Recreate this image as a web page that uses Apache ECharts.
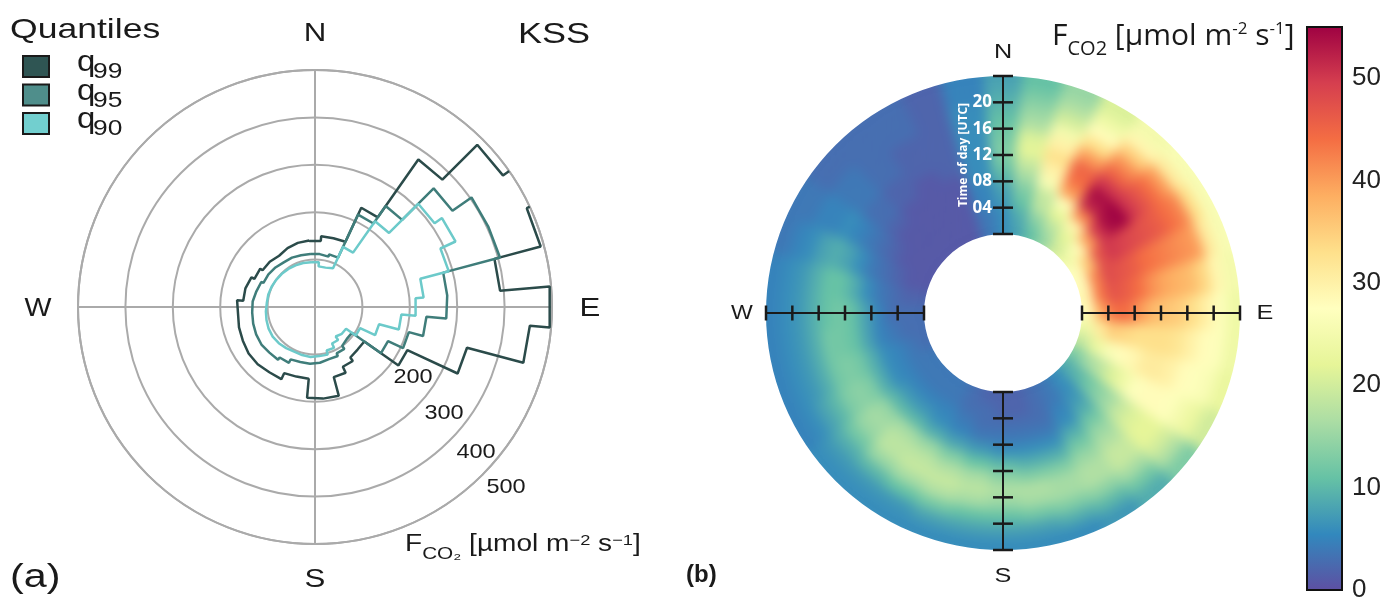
<!DOCTYPE html>
<html><head><meta charset="utf-8">
<script src="https://cdn.jsdelivr.net/npm/echarts@6/dist/echarts.min.js"></script>
<style>html,body{margin:0;padding:0;background:#fff}
.layer{position:absolute;left:0;top:0;width:1399px;height:603px}
#heat{filter:blur(6px)}
</style>
</head><body><div id="heat" class="layer"></div><div id="c" class="layer"></div>
<script>
// ---------- Panel (a): quantiles of F_CO2 per 10-degree wind-direction bin ----------
const dirBins = [0,10,20,30,40,50,60,70,80,90,100,110,120,130,140,150,160,170,180,190,200,210,220,230,240,250,260,270,280,290,300,310,320,330,340,350];
const q99 = [140,150,152,231,380,484,557,493,392,497,455,332,215,127,130,139,153,194,192,152,154,168,171,171,168,166,163,165,152,148,141,135,132,137,140,141];
const q95 = [112,110,115,215,260,354,403,404,280,278,236,205,170,95,100,108,114,118,120,120,122,130,136,138,137,135,133,132,128,125,120,118,115,115,113,112];
const q90 = [95,86,90,140,221,308,327,292,230,213,183,140,105,80,76,85,95,104,106,105,104,106,108,109,108,106,104,102,102,101,100,99,98,97,96,95];
const quantileNames = ['q99','q95','q90'];
const radialTickLabels = ['200','300','400','500'];

// ---------- Panel (b): F_CO2 by wind direction (rows) and time of day (columns, 2-h bins) ----------
const hourBins = [1,3,5,7,9,11,13,15,17,19,21,23];
const fluxGrid = [
  [6,6,7,8,10,12,13,12,11,10,9,8],        // 0
  [8,9,11,13,16,19,22,21,17,15,13,11],    // 10
  [11,14,18,19,26,30,33,30,25,20,17,15],  // 20
  [15,18,22,27,40,44,45,40,33,28,24,21],  // 30
  [20,22,29,42,52,54,50,45,41,35,29,25],  // 40
  [24,28,40,50,54,55,50,47,44,40,31,26],  // 50
  [27,36,47,50,49,48,47,46,44,42,33,26],  // 60
  [28,42,48,47,46,44,43,42,41,40,31,26],  // 70
  [29,43,47,46,44,41,39,38,37,34,29,25],  // 80
  [28,39,44,44,40,37,36,35,33,30,27,24],  // 90
  [24,31,35,34,33,33,33,32,30,28,27,24],  // 100
  [19,23,26,28,29,31,31,30,28,27,26,23],  // 110
  [13,16,18,21,24,27,28,28,27,25,23,20],  // 120
  [9,10,12,14,16,19,21,22,22,20,17,13],   // 130
  [6,6,7,9,12,15,17,19,19,16,12,9],       // 140
  [4,4,5,6,9,12,15,17,17,14,10,7],        // 150
  [3,3,3,4,6,9,13,16,16,13,9,6],          // 160
  [2,2,3,4,6,9,13,17,16,12,8,6],          // 170
  [2,2,3,4,6,10,14,17,15,11,8,6],         // 180
  [2,3,3,4,7,11,16,18,16,11,8,6],         // 190
  [3,3,4,5,8,13,17,19,17,12,8,6],         // 200
  [4,4,5,6,9,15,18,19,16,11,7,6],         // 210
  [4,4,5,7,10,16,18,18,15,10,7,6],        // 220
  [4,4,5,7,10,15,16,15,12,9,7,6],         // 230
  [4,4,5,6,9,13,14,13,10,8,6,5],          // 240
  [3,4,5,6,9,12,13,12,9,7,6,5],           // 250
  [3,3,4,5,8,11,12,12,9,7,6,5],           // 260
  [3,3,3,5,8,11,12,11,9,7,6,5],           // 270
  [2,2,3,4,6,9,11,11,9,7,6,5],            // 280
  [1,1,2,3,4,6,8,9,8,6,5,4],              // 290
  [1,1,1,2,3,4,5,6,5,5,4,4],              // 300
  [1,1,1,1,2,3,3,4,4,4,3,3],              // 310
  [1,1,1,1,1,2,2,3,3,3,3,3],              // 320
  [1,1,1,1,1,1,2,2,2,3,3,3],              // 330
  [1,1,1,1,1,2,2,2,2,2,2,2],              // 340
  [4,4,5,5,6,6,6,6,6,6,5,5]               // 350
];
const hourTicks = [0,4,8,12,16,20,24];
const axisDirs = [0,90,180,270];
const colorRange = [0,55];
const spectral = ['#5E4FA2','#3288BD','#66C2A5','#ABDDA4','#E6F598','#FFFFBF','#FEE08B','#FDAE61','#F46D43','#D53E4F','#9E0142'];

// ---------- layout constants ----------
const polarA = {center:[315,307], radius:[0,237]};
const polarB = {center:[1003,313], radius:[79,237]};
const binHalf = 5, hourHalf = 1;

function stepPath(vals){
  const pts = [];
  dirBins.forEach((d,i)=>{ pts.push([vals[i], d-binHalf]); pts.push([vals[i], d+binHalf]); });
  pts.push([vals[0], dirBins[0]-binHalf+360]);
  return pts;
}
const heatData = [];
dirBins.forEach((d,i)=>hourBins.forEach((h,j)=>heatData.push([h, d, fluxGrid[i][j]])));
const tickData = [];
axisDirs.forEach(d=>hourTicks.forEach(h=>tickData.push([h,d])));

const lineColors = ['#2b4b4a','#3f7d7a','#6ccaca'];
const boxColors = ['#2f5553','#4f8e8b','#72cfcf'];
const qVals = [q99,q95,q90];

// ---------- heat layer (smoothed by a CSS blur, clipped to the annulus) ----------
(function(){
  const cx = polarB.center[0], cy = polarB.center[1], R = polarB.radius[1], r = polarB.radius[0];
  const ring = (rad)=>`M ${cx+rad} ${cy} A ${rad} ${rad} 0 1 0 ${cx-rad} ${cy} A ${rad} ${rad} 0 1 0 ${cx+rad} ${cy} Z`;
  document.getElementById('heat').style.clipPath = `path(evenodd, '${ring(R)} ${ring(r)}')`;
})();
const heat = echarts.init(document.getElementById('heat'));
heat.setOption({
  animation:false,
  polar:[polarB],
  angleAxis:[{type:'value', min:0, max:360, startAngle:90, clockwise:true, show:false}],
  radiusAxis:[{type:'value', min:0, max:24, show:false}],
  visualMap:[{type:'continuous', show:false, min:colorRange[0], max:colorRange[1], dimension:2, seriesIndex:0, inRange:{color:spectral}}],
  series:[{type:'custom', coordinateSystem:'polar', data:heatData, encode:{radius:0, angle:1},
    renderItem:function(params, api){
      const cs = params.coordSys;
      const h = api.value(0), d = api.value(1);
      const pA = api.coord([h-hourHalf, d]), pB = api.coord([h+hourHalf, d]);
      let r0 = Math.hypot(pA[0]-cs.cx, pA[1]-cs.cy), r1 = Math.hypot(pB[0]-cs.cx, pB[1]-cs.cy);
      if (h === hourBins[0]) r0 -= 12;
      if (h === hourBins[hourBins.length-1]) r1 += 12;
      const s = api.coord([h, d-binHalf]), e = api.coord([h, d+binHalf]);
      let a0 = Math.atan2(s[1]-cs.cy, s[0]-cs.cx), a1 = Math.atan2(e[1]-cs.cy, e[0]-cs.cx);
      if (a1 < a0) a1 += Math.PI*2;
      const col = api.visual('color');
      return {type:'sector', shape:{cx:cs.cx, cy:cs.cy, r0:Math.max(r0,0), r:r1, startAngle:a0-0.004, endAngle:a1+0.004, clockwise:true}, style:{fill:col, stroke:col, lineWidth:0.6}};
    }}]
});

// ---------- main layer ----------
const chart = echarts.init(document.getElementById('c'));
const FA = 'Liberation Sans, Arial, sans-serif';
function T(x,y,text,font,extra,sx){
  return {type:'text', x:x, y:y, z:100, scaleX:sx||1, style:Object.assign({text:text, font:font, fill:'#1a1a1a', align:'center', verticalAlign:'middle', textAlign:'center', textVerticalAlign:'middle'}, extra||{})};
}
const L = {align:'left', textAlign:'left'};
const graphics = [];
graphics.push(T(10,30,'Quantiles','28px '+FA,L,1.27));
quantileNames.forEach((n,i)=>{
  const y = 56 + i*28.5;
  graphics.push({type:'rect', z:100, shape:{x:23,y:y,width:26,height:21}, style:{fill:boxColors[i], stroke:'#1a1a1a', lineWidth:2}});
  graphics.push(T(77,y+7,'q','30px '+FA,L,1.1));
  graphics.push(T(93,y+16,n.slice(1),'22px '+FA,L,1.2));
});
graphics.push(T(554,35,'KSS','30px '+FA,null,1.2));
graphics.push(T(315,34,'N','26px '+FA,null,1.2));
graphics.push(T(315,580,'S','26px '+FA,null,1.2));
graphics.push(T(38,309,'W','26px '+FA,null,1.1));
graphics.push(T(590,309,'E','26px '+FA,null,1.2));
const radLabelPos = [[413,377],[444,413],[476,452],[506,487]];
radialTickLabels.forEach((t,i)=>graphics.push(T(radLabelPos[i][0],radLabelPos[i][1],t,'21px '+FA,null,1.12)));
graphics.push({type:'text', x:405, y:548, z:100, scaleX:1.22, style:{text:'{n|F}{sub|CO₂}{n| [µmol m}{sup|−2}{n| s}{sup|−1}{n|]}', fill:'#1a1a1a', align:'left', verticalAlign:'middle', textAlign:'left', textVerticalAlign:'middle',
  rich:{n:{fontSize:23, fontFamily:FA, lineHeight:30, verticalAlign:'top'}, sub:{fontSize:17, fontFamily:FA, lineHeight:15, verticalAlign:'bottom'}, sup:{fontSize:15, fontFamily:FA, lineHeight:14, verticalAlign:'top'}}}});
graphics.push(T(10,578,'(a)','33px '+FA,L,1.25));
// panel b
graphics.push(T(686,575,'(b)','bold 24px '+FA,L));
graphics.push(T(1003,52,'N','21px '+FA,null,1.2));
graphics.push(T(1003,576,'S','21px '+FA,null,1.2));
graphics.push(T(742,313,'W','21px '+FA,null,1.1));
graphics.push(T(1265,313,'E','21px '+FA,null,1.2));
graphics.push({type:'text', x:1052, y:40, z:100, style:{text:'{n|F}{sub|CO2}{n| [µmol m}{sup|-2}{n| s}{sup|-1}{n|]}', fill:'#1a1a1a', align:'left', verticalAlign:'middle', textAlign:'left', textVerticalAlign:'middle',
  rich:{n:{fontSize:30, fontFamily:'Open Sans', lineHeight:38, verticalAlign:'top'}, sub:{fontSize:20, fontFamily:'Open Sans', lineHeight:17, verticalAlign:'bottom'}, sup:{fontSize:17, fontFamily:'Open Sans', lineHeight:20, verticalAlign:'top'}}}});

const series = [];
qVals.forEach((v,i)=>series.push({name:quantileNames[i], type:'line', coordinateSystem:'polar', polarIndex:0, data:stepPath(v), symbol:'none', showSymbol:false, clip:false, z:3+i, lineStyle:{color:lineColors[i], width:2.5}}));
axisDirs.forEach(d=>series.push({type:'line', coordinateSystem:'polar', polarIndex:1, data:[[hourTicks[0],d],[hourTicks[hourTicks.length-1],d]], symbol:'none', z:6, lineStyle:{color:'#1a1a1a', width:2}}));
series.push({type:'scatter', coordinateSystem:'polar', polarIndex:1, data:tickData, symbol:'rect', z:7,
  symbolSize:function(v){ return (v[1]%180===0) ? [20,2.5] : [2.5,15]; }, itemStyle:{color:'#1a1a1a', opacity:1}});
series.push({type:'custom', coordinateSystem:'cartesian2d', xAxisIndex:0, yAxisIndex:0, data:[[0, colorRange[1]]], z:2,
  renderItem:function(params, api){
    const p0 = api.coord([0, colorRange[0]]), p1 = api.coord([1, api.value(1)]);
    const stops = spectral.map((c,i)=>({offset:i/(spectral.length-1), color:c}));
    return {type:'rect', shape:{x:p0[0], y:p1[1], width:p1[0]-p0[0], height:p0[1]-p1[1]},
      style:{fill:new echarts.graphic.LinearGradient(0,1,0,0,stops), stroke:'#111', lineWidth:2}};
  }});

chart.setOption({
  animation:false,
  backgroundColor:'transparent',
  polar:[polarA, polarB],
  angleAxis:[
    {polarIndex:0, type:'value', min:0, max:360, startAngle:90, clockwise:true, interval:90,
     axisLine:{show:true, lineStyle:{color:'#aaaaaa', width:2}}, axisTick:{show:false}, axisLabel:{show:false},
     splitLine:{show:true, lineStyle:{color:'#aaaaaa', width:2}}},
    {polarIndex:1, type:'value', min:0, max:360, startAngle:90, clockwise:true, show:false}
  ],
  radiusAxis:[
    {polarIndex:0, type:'value', min:0, max:500, interval:100, axisLine:{show:false}, axisTick:{show:false}, axisLabel:{show:false},
     splitLine:{show:true, lineStyle:{color:'#aaaaaa', width:2}}},
    {polarIndex:1, type:'value', min:0, max:24, interval:4, z:10, axisLine:{show:false}, axisTick:{show:false}, splitLine:{show:false},
     axisLabel:{show:true, inside:true, margin:11, color:'#ffffff', fontWeight:'bold', fontSize:17, fontFamily:'Open Sans',
       formatter:function(v){ return (v>0 && v<24) ? String(v).padStart(2,'0') : ''; }},
     name:'Time of day [UTC]', nameLocation:'middle', nameRotate:90, nameGap:-45, nameMoveOverlap:false,
     nameTextStyle:{color:'#ffffff', fontWeight:'bold', fontSize:12, fontFamily:'Open Sans'}}
  ],
  grid:[{left:1307, top:27, width:35, height:569, show:false}],
  xAxis:[{gridIndex:0, type:'value', min:0, max:1, show:false}],
  yAxis:[{gridIndex:0, type:'value', min:colorRange[0], max:colorRange[1], interval:10, position:'right',
    axisLine:{show:false}, splitLine:{show:false},
    axisTick:{show:true, length:8, lineStyle:{color:'#111', width:2}},
    axisLabel:{margin:10, fontSize:26, color:'#222', fontFamily:FA, showMaxLabel:false}}],
  graphic:graphics,
  series:series
});
</script></body></html>
